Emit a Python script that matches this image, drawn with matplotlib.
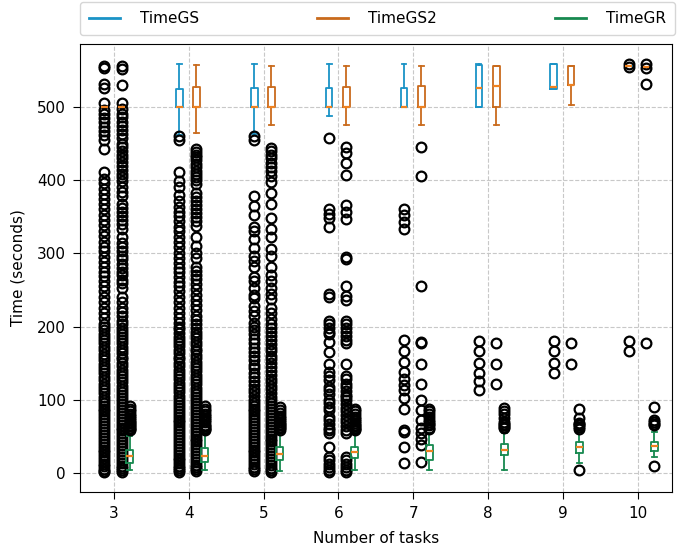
import matplotlib
matplotlib.use("Agg")
import matplotlib.pyplot as plt
from matplotlib.lines import Line2D

plt.rcParams["font.size"] = 11

tasks = [3, 4, 5, 6, 7, 8, 9, 10]
series_names = ["TimeGS", "TimeGS2", "TimeGR"]
series_colors = ["#1a93c6", "#c96a1c", "#17894f"]
median_color = "#ef8221"

# ---- TimeGS: box statistics per number of tasks ----
gs_q1 = [500, 500, 500, 500, 500, 500, 525, 556]
gs_med = [500, 500, 500, 500, 500, 526, 527, 556]
gs_q3 = [500, 525, 526, 526, 526, 557, 558, 556]
gs_lo = [500, 462, 463, 487, 500, 500, 525, 556]
gs_hi = [500, 558, 558, 558, 558, 559, 558, 556]
gs_fliers = [
    [556, 553, 532, 526, 505, 496, 490, 485, 479, 473, 467, 461, 455, 443,
     411, 402, 396, 388, 381, 374, 367, 360, 352, 346, 339, 331, 324, 316,
     309, 303, 295, 288, 281, 274, 269, 262, 255, 248, 241, 233, 226, 218,
     211, 204, 199, 195, 190, 186, 181, 177, 172, 168, 163, 158, 154, 149,
     145, 140, 136, 131, 127, 122, 118, 113, 109, 104, 100, 96, 92, 88, 84,
     80, 76, 72, 68, 64, 60, 56, 52, 48, 44, 40, 36, 32, 28, 24, 20, 16, 12,
     9, 6, 3, 1],
    [460, 455, 411, 399, 391, 380, 372, 364, 357, 351, 344, 336, 330, 322,
     315, 309, 301, 293, 287, 280, 275, 268, 261, 255, 248, 240, 233, 225,
     219, 212, 205, 200, 196, 191, 186, 182, 177, 173, 168, 164, 159, 155,
     150, 146, 141, 137, 132, 128, 123, 119, 114, 110, 105, 101, 97, 93, 89,
     85, 81, 77, 73, 69, 65, 61, 57, 53, 49, 45, 41, 37, 33, 29, 25, 21, 17,
     13, 10, 7, 4, 1],
    [460, 455, 378, 365, 352, 336, 331, 320, 307, 296, 290, 281, 268, 262,
     253, 243, 239, 228, 221, 214, 205, 200, 195, 190, 183, 177, 171, 165,
     160, 154, 148, 143, 137, 131, 126, 120, 115, 110, 105, 100, 96, 92, 88,
     84, 80, 76, 72, 68, 64, 60, 56, 52, 48, 44, 40, 36, 32, 28, 24, 20, 16,
     12, 8, 5, 2],
    [457, 360, 354, 348, 336, 244, 240, 207, 203, 198, 193, 190, 179, 165,
     149, 138, 133, 127, 118, 113, 108, 99, 95, 90, 86, 77, 72, 67, 62, 58,
     54, 36, 22, 17, 12, 8, 4, 1],
    [361, 352, 343, 333, 181, 167, 151, 138, 129, 120, 113, 102, 88, 58, 56,
     36, 13],
    [180, 167, 150, 137, 126, 113],
    [180, 167, 150, 137],
    [558, 554, 180, 167],
]

# ---- TimeGS2 ----
gs2_q1 = [500, 500, 500, 500, 500, 500, 530, 555]
gs2_med = [500, 500, 500, 500, 500, 528, 530, 555]
gs2_q3 = [500, 527, 527, 527, 529, 556, 556, 555]
gs2_lo = [500, 464, 476, 476, 476, 476, 503, 555]
gs2_hi = [500, 557, 556, 556, 556, 556, 556, 555]
gs2_fliers = [
    [556, 552, 530, 505, 497, 491, 486, 480, 474, 469, 463, 458, 450, 445,
     440, 435, 430, 425, 420, 414, 409, 404, 399, 391, 384, 378, 368, 362,
     357, 351, 345, 340, 333, 322, 314, 309, 303, 297, 292, 286, 280, 275,
     270, 264, 259, 252, 240, 233, 226, 220, 214, 208, 203, 198, 194, 190,
     186, 181, 177, 172, 168, 164, 159, 155, 150, 146, 141, 137, 133, 128,
     124, 119, 115, 111, 106, 102, 98, 94, 90, 86, 82, 78, 74, 70, 66, 62,
     58, 54, 50, 46, 42, 38, 34, 30, 26, 22, 18, 14, 10, 7, 4, 1],
    [443, 439, 435, 431, 427, 422, 418, 413, 409, 404, 400, 395, 382, 377,
     371, 366, 360, 355, 349, 344, 338, 322, 310, 300, 293, 282, 276, 271,
     265, 258, 251, 243, 236, 229, 222, 215, 209, 203, 198, 193, 188, 184,
     179, 175, 170, 166, 161, 157, 152, 148, 143, 139, 134, 130, 125, 121,
     116, 112, 108, 104, 100, 95, 91, 87, 83, 79, 75, 71, 67, 63, 59, 55, 51,
     47, 43, 39, 35, 31, 27, 23, 19, 15, 11, 8, 5, 2],
    [444, 440, 435, 430, 424, 418, 412, 405, 397, 382, 367, 348, 333, 322,
     306, 296, 282, 270, 262, 253, 245, 238, 226, 218, 210, 204, 198, 192,
     187, 182, 176, 171, 166, 160, 155, 150, 145, 139, 134, 129, 124, 119,
     114, 109, 104, 100, 95, 91, 87, 83, 79, 75, 71, 67, 63, 59, 55, 51, 47,
     43, 39, 35, 31, 27, 23, 19, 15, 11, 7, 4, 1],
    [445, 437, 424, 407, 366, 357, 347, 295, 292, 256, 242, 236, 208, 203,
     198, 193, 187, 181, 177, 149, 133, 128, 122, 117, 112, 107, 104, 99, 94,
     89, 84, 79, 74, 69, 64, 59, 54, 22, 17, 12, 8, 4, 1],
    [445, 405, 256, 179, 177, 149, 122, 99, 86, 72, 61, 54, 47, 38, 15],
    [177, 149, 121],
    [177, 149],
    [558, 553, 532, 177],
]

# ---- TimeGR ----
gr_q1 = [14, 15, 18, 20, 18, 25, 27, 30]
gr_med = [23, 23, 26, 28, 30, 31, 35, 37]
gr_q3 = [32, 34, 36, 36, 38, 40, 42, 42]
gr_lo = [4, 4, 3, 4, 4, 4, 13, 22]
gr_hi = [51, 54, 55, 55, 55, 54, 56, 56]
gr_fliers = [
    [58, 60, 62, 64, 66, 68, 70, 72, 75, 78, 81, 84, 87, 91],
    [58, 60, 62, 64, 66, 69, 72, 75, 78, 81, 84, 88, 91],
    [59, 61, 63, 65, 67, 69, 72, 75, 78, 82, 86, 90],
    [58, 60, 62, 64, 66, 68, 71, 74, 77, 80, 84, 88],
    [60, 62, 65, 67, 70, 73, 76, 80, 84, 88],
    [61, 63, 65, 67, 70, 75, 80, 85, 89],
    [60, 63, 65, 67, 68, 75, 88, 4],
    [65, 67, 70, 72, 90, 9],
]

offsets = [-0.125, 0.105, 0.215]


def build_stats(q1, med, q3, lo, hi, fliers):
    return [dict(q1=a, med=b, q3=c, whislo=d, whishi=e, fliers=f)
            for a, b, c, d, e, f in zip(q1, med, q3, lo, hi, fliers)]


all_stats = [
    build_stats(gs_q1, gs_med, gs_q3, gs_lo, gs_hi, gs_fliers),
    build_stats(gs2_q1, gs2_med, gs2_q3, gs2_lo, gs2_hi, gs2_fliers),
    build_stats(gr_q1, gr_med, gr_q3, gr_lo, gr_hi, gr_fliers),
]

fig = plt.figure(figsize=(6.8, 5.5), dpi=100)
ax = fig.add_axes([0.1176, 0.1055, 0.8704, 0.8145])

ax.set_axisbelow(True)
ax.grid(True, linestyle="--", color="#c8c8c8", linewidth=0.8)

for stats, color, off in zip(all_stats, series_colors, offsets):
    ax.bxp(
        stats,
        positions=[t + off for t in tasks],
        widths=0.09,
        capwidths=0.065,
        showfliers=True,
        manage_ticks=False,
        boxprops=dict(color=color, linewidth=1.3),
        whiskerprops=dict(color=color, linewidth=1.3),
        capprops=dict(color=color, linewidth=1.3),
        medianprops=dict(color=median_color, linewidth=1.6),
        flierprops=dict(marker="o", markerfacecolor="none",
                        markeredgecolor="black", markersize=7,
                        markeredgewidth=1.6, linestyle="none"),
    )

ax.set_xticks(tasks)
ax.set_xticklabels([str(t) for t in tasks])
ax.set_xlim(2.55, 10.45)
ax.set_ylim(-26, 586)
ax.set_yticks([0, 100, 200, 300, 400, 500])
ax.tick_params(length=5, pad=5)
ax.set_xlabel("Number of tasks", labelpad=7)
ax.set_ylabel("Time (seconds)", labelpad=8)

handles = [Line2D([], [], color=c, linewidth=2) for c in series_colors]
ax.legend(handles, series_names, loc="lower left",
          bbox_to_anchor=(0.0, 1.02, 1.005, 0.08), mode="expand", ncol=3,
          borderaxespad=0.0, borderpad=0.6, handletextpad=1.3)

fig.savefig("out.png", dpi=100)
